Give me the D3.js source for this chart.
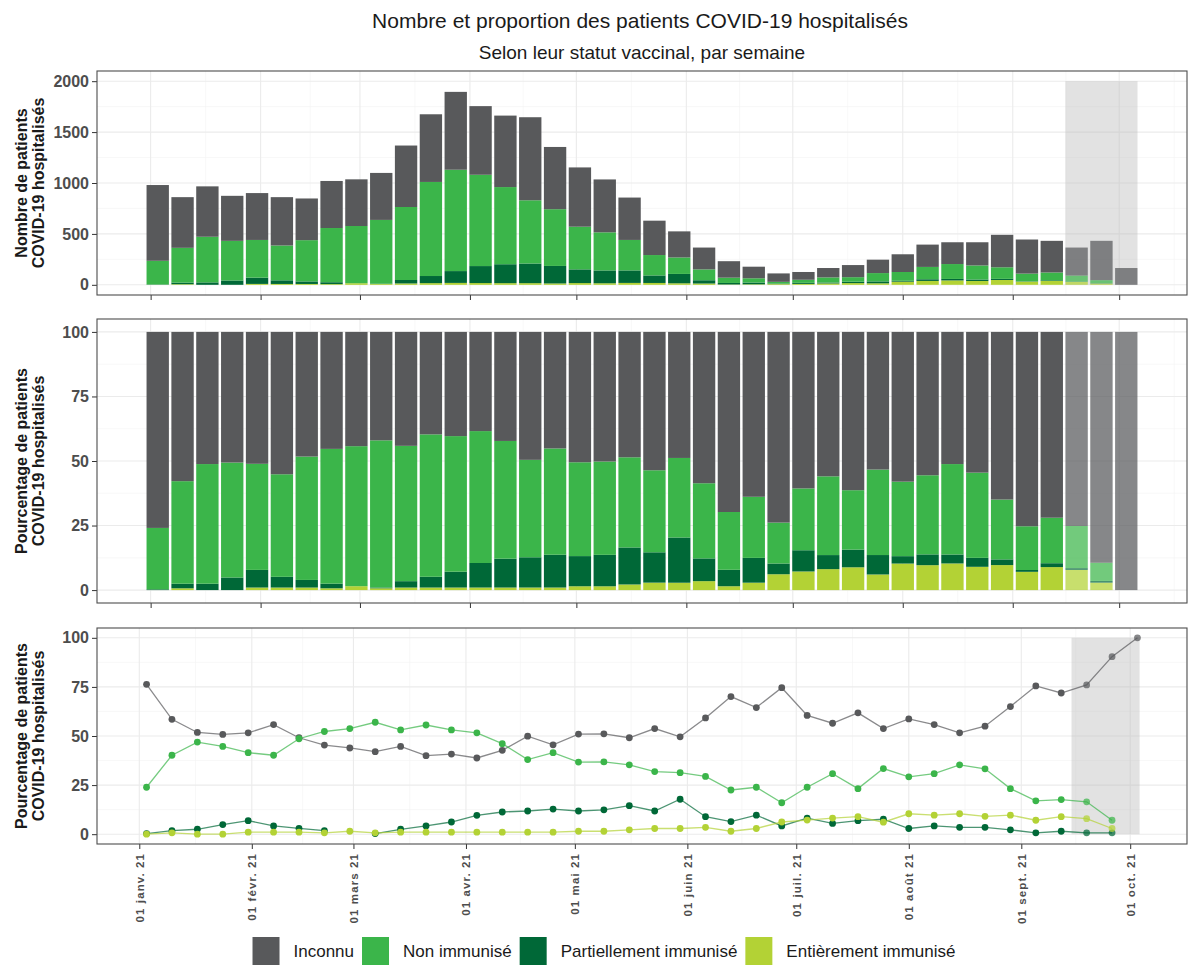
<!DOCTYPE html>
<html>
<head>
<meta charset="utf-8">
<script src="https://cdn.jsdelivr.net/npm/d3@7"></script>
<style>
  body { margin: 0; background: #fff; }
  text { font-family: "Liberation Sans", Arial, sans-serif; }
</style>
</head>
<body>
<svg id="chart" width="1188" height="965"></svg>
<script>
// weekly data (week start, Sunday)
const weeks = [
  "2021-01-03", "2021-01-10", "2021-01-17", "2021-01-24", "2021-01-31",
  "2021-02-07", "2021-02-14", "2021-02-21", "2021-02-28",
  "2021-03-07", "2021-03-14", "2021-03-21", "2021-03-28",
  "2021-04-04", "2021-04-11", "2021-04-18", "2021-04-25",
  "2021-05-02", "2021-05-09", "2021-05-16", "2021-05-23", "2021-05-30",
  "2021-06-06", "2021-06-13", "2021-06-20", "2021-06-27",
  "2021-07-04", "2021-07-11", "2021-07-18", "2021-07-25",
  "2021-08-01", "2021-08-08", "2021-08-15", "2021-08-22", "2021-08-29",
  "2021-09-05", "2021-09-12", "2021-09-19", "2021-09-26", "2021-10-03"
];
const totals = [980, 861, 967, 874, 901, 861, 848, 1020, 1036, 1099,
  1368, 1675, 1895, 1755, 1662, 1646, 1354, 1153, 1035, 857,
  630, 525, 366, 232, 178, 112, 126, 165, 194, 247,
  300, 395, 418, 418, 491, 445, 432, 366, 432, 165];
// percentages per status
const pctInconnu = [76.3, 58.5, 51.8, 50.8, 51.6, 55.8, 49.1, 45.4, 43.9, 42.0,
  44.7, 40.0, 40.8, 38.8, 42.7, 49.9, 45.5, 51.0, 51.1, 49.1,
  53.8, 49.6, 59.2, 70.1, 64.5, 74.6, 60.5, 56.5, 61.8, 53.8,
  58.7, 55.8, 51.6, 55.0, 65.0, 75.5, 71.9, 76.0, 90.4, 100];
const pctNon = [23.9, 40.2, 46.9, 44.7, 41.5, 40.2, 48.6, 52.3, 53.8, 57.0,
  53.1, 55.6, 53.1, 51.6, 46.1, 38.0, 41.5, 36.7, 36.8, 35.3,
  31.9, 31.3, 29.4, 22.5, 23.9, 16.0, 23.9, 30.8, 23.2, 33.4,
  29.2, 30.8, 35.3, 33.3, 23.2, 17.0, 17.6, 16.5, 7.1, null];
const pctPartiel = [0.3, 1.8, 2.5, 4.9, 6.9, 4.2, 3.0, 1.8, null, 0.3,
  2.5, 4.2, 6.2, 9.6, 11.3, 11.8, 12.8, 11.8, 12.4, 14.5,
  11.8, 17.8, 8.9, 6.4, 9.7, 4.2, 8.2, 5.5, 6.9, 7.6,
  2.9, 4.2, 3.5, 3.5, 2.2, 0.7, 1.5, 0.7, 0.7, null];
const pctEntier = [0, 0.7, 0, 0, 1.0, 1.0, 1.0, 0.7, 1.5, 0.7,
  1.0, 1.0, 1.0, 1.0, 1.0, 1.0, 1.0, 1.5, 1.5, 2.2,
  2.9, 2.9, 3.5, 1.5, 2.9, 6.2, 7.2, 8.2, 8.9, 6.1,
  10.4, 9.7, 10.4, 9.1, 9.7, 7.1, 8.9, 7.9, 2.9, null];

const statuts = ["Inconnu", "Non immunisé", "Partiellement immunisé", "Entièrement immunisé"];
const keys = ["inconnu", "non", "partiel", "entier"];
const colours = ["#58595b", "#3bb54a", "#006837", "#b3d235"];
const incompleteWeeks = 3; // last weeks with incomplete data
const shadeBars = ["2021-09-15T20:00", "2021-10-06T04:00"];
const shadeLines = ["2021-09-14T20:00", "2021-10-03T14:00"];

const title = "Nombre et proportion des patients COVID-19 hospitalisés";
const subtitle = "Selon leur statut vaccinal, par semaine";
const yTitles = [["Nombre de patients", "COVID-19 hospitalisés"],
                 ["Pourcentage de patients", "COVID-19 hospitalisés"],
                 ["Pourcentage de patients", "COVID-19 hospitalisés"]];

//layout
const left = 97, right = 1187;
const panels = [{ top: 71, bottom: 295 }, { top: 319, bottom: 603 }, { top: 628, bottom: 844 }];
const tickLen = 5;
const DAY = 864e5;

const fr = d3.timeFormatLocale({
  dateTime: "%A %e %B %Y à %X", date: "%d/%m/%Y", time: "%H:%M:%S",
  periods: ["AM", "PM"],
  days: ["dimanche", "lundi", "mardi", "mercredi", "jeudi", "vendredi", "samedi"],
  shortDays: ["dim.", "lun.", "mar.", "mer.", "jeu.", "ven.", "sam."],
  months: ["janvier", "février", "mars", "avril", "mai", "juin", "juillet", "août", "septembre", "octobre", "novembre", "décembre"],
  shortMonths: ["janv.", "févr.", "mars", "avr.", "mai", "juin", "juil.", "août", "sept.", "oct.", "nov.", "déc."]
});
const fmt = fr.format("%d %b %y");

const svg = d3.select("#chart");
const colour = d3.scaleOrdinal().domain(keys).range(colours);

// build rows
const rows = weeks.map((w, i) => {
  const pct = [pctInconnu[i], pctNon[i], pctPartiel[i], pctEntier[i]];
  const sum = d3.sum(pct);
  const r = { date: d3.isoParse(w), total: totals[i], faded: i >= weeks.length - incompleteWeeks };
  keys.forEach((k, j) => { r[k] = pct[j]; r["n_" + k] = totals[i] * (pct[j] || 0) / sum; });
  return r;
});

// x scales, with ggplot style 5% expansion
const halfBar = 0.45 * 7 * DAY;
function expand(lo, hi) {
  const pad = (hi - lo) * 0.05;
  return [new Date(lo - pad), new Date(hi + pad)];
}
const first = +rows[0].date, last = +rows[rows.length - 1].date;
const xBar = d3.scaleTime().domain(expand(first - halfBar, last + halfBar)).range([left, right]);
const xLine = d3.scaleTime().domain(expand(first, last)).range([left, right]);

const yCount = d3.scaleLinear().domain([-100, 2100]).range([panels[0].bottom, panels[0].top]);
const yShare = d3.scaleLinear().domain([-0.05, 1.05]).range([panels[1].bottom, panels[1].top]);
const yPct = d3.scaleLinear().domain([-5, 105]).range([panels[2].bottom, panels[2].top]);

function drawFrame(p, x, y, yTicks, yFmt, showLabels) {
  const g = svg.append("g");
  const months = d3.timeMonth.range(new Date(2020, 11, 1), new Date(2021, 11, 1));
  const [d0, d1] = x.domain();
  const major = months.filter(d => d >= d0 && d <= d1);
  const minor = d3.pairs(months).map(([a, b]) => new Date((+a + +b) / 2)).filter(d => d >= d0 && d <= d1);
  const yMinor = d3.pairs(yTicks).map(([a, b]) => (a + b) / 2);

  g.selectAll(".vminor").data(minor).join("line")
    .attr("x1", d => x(d)).attr("x2", d => x(d)).attr("y1", p.top).attr("y2", p.bottom)
    .attr("stroke", "#f3f3f3").attr("stroke-width", 0.6);
  g.selectAll(".hminor").data(yMinor).join("line")
    .attr("x1", left).attr("x2", right).attr("y1", d => y(d)).attr("y2", d => y(d))
    .attr("stroke", "#f3f3f3").attr("stroke-width", 0.6);
  g.selectAll(".vmajor").data(major).join("line")
    .attr("x1", d => x(d)).attr("x2", d => x(d)).attr("y1", p.top).attr("y2", p.bottom)
    .attr("stroke", "#ebebeb").attr("stroke-width", 1.1);
  g.selectAll(".hmajor").data(yTicks).join("line")
    .attr("x1", left).attr("x2", right).attr("y1", d => y(d)).attr("y2", d => y(d))
    .attr("stroke", "#ebebeb").attr("stroke-width", 1.1);

  // axes drawn later, on top
  return () => {
    const ax = svg.append("g").attr("transform", `translate(${left},0)`)
      .call(d3.axisLeft(y).tickValues(yTicks).tickFormat(yFmt).tickSize(tickLen).tickPadding(3));
    ax.select(".domain").remove();
    ax.selectAll("line").attr("stroke", "#333");
    ax.selectAll("text").attr("fill", "#4d4d4d").attr("font-size", 16).attr("font-weight", "bold")
      .attr("font-family", "'Liberation Sans', Arial, sans-serif");

    const bx = svg.append("g").attr("transform", `translate(0,${p.bottom})`)
      .call(d3.axisBottom(x).tickValues(major).tickFormat(showLabels ? fmt : "").tickSize(tickLen).tickPadding(4));
    bx.select(".domain").remove();
    bx.selectAll("line").attr("stroke", "#333");
    bx.selectAll("text").attr("fill", "#4d4d4d").attr("font-size", 11.5).attr("font-weight", "bold")
      .attr("letter-spacing", 1.1)
      .attr("font-family", "'Liberation Sans', Arial, sans-serif")
      .attr("transform", "rotate(-90)")
      .attr("text-anchor", "end").attr("x", -(tickLen + 4)).attr("y", 0).attr("dy", "0.35em");

    svg.append("rect").attr("x", left).attr("y", p.top)
      .attr("width", right - left).attr("height", p.bottom - p.top)
      .attr("fill", "none").attr("stroke", "#4d4d4d").attr("stroke-width", 1.1);
  };
}

const stackOrder = ["n_entier", "n_partiel", "n_non", "n_inconnu"];

// panel 1 : counts
const finish1 = drawFrame(panels[0], xBar, yCount, [0, 500, 1000, 1500, 2000], d3.format("d"), false);
svg.append("rect")
  .attr("x", xBar(d3.isoParse(shadeBars[0]))).attr("y", yCount(2000))
  .attr("width", xBar(d3.isoParse(shadeBars[1])) - xBar(d3.isoParse(shadeBars[0])))
  .attr("height", yCount(0) - yCount(2000))
  .attr("fill", "#bbbbbb").attr("fill-opacity", 0.42);
const stackCount = d3.stack().keys(stackOrder)(rows);
svg.append("g").selectAll("g").data(stackCount).join("g")
  .attr("fill", d => colour(d.key.slice(2)))
  .selectAll("rect").data(d => d).join("rect")
  .attr("x", d => xBar(new Date(+d.data.date - halfBar)))
  .attr("width", d => xBar(new Date(+d.data.date + halfBar)) - xBar(new Date(+d.data.date - halfBar)))
  .attr("y", d => yCount(d[1]))
  .attr("height", d => yCount(d[0]) - yCount(d[1]))
  .attr("opacity", d => d.data.faded ? 0.72 : 1);
finish1();

// panel 2 : proportions
const finish2 = drawFrame(panels[1], xBar, yShare, [0, 0.25, 0.5, 0.75, 1], d => Math.round(d * 100), false);
const stackShare = d3.stack().keys(stackOrder).offset(d3.stackOffsetExpand)(rows);
svg.append("g").selectAll("g").data(stackShare).join("g")
  .attr("fill", d => colour(d.key.slice(2)))
  .selectAll("rect").data(d => d).join("rect")
  .attr("x", d => xBar(new Date(+d.data.date - halfBar)))
  .attr("width", d => xBar(new Date(+d.data.date + halfBar)) - xBar(new Date(+d.data.date - halfBar)))
  .attr("y", d => yShare(d[1]))
  .attr("height", d => yShare(d[0]) - yShare(d[1]))
  .attr("opacity", d => d.data.faded ? 0.72 : 1);
finish2();

// panel 3 : lines
const finish3 = drawFrame(panels[2], xLine, yPct, [0, 25, 50, 75, 100], d3.format("d"), true);
svg.append("rect")
  .attr("x", xLine(d3.isoParse(shadeLines[0]))).attr("y", yPct(100))
  .attr("width", xLine(d3.isoParse(shadeLines[1])) - xLine(d3.isoParse(shadeLines[0])))
  .attr("height", yPct(0) - yPct(100))
  .attr("fill", "#bbbbbb").attr("fill-opacity", 0.42);
keys.forEach(k => {
  const line = d3.line().defined(d => d[k] != null).x(d => xLine(d.date)).y(d => yPct(d[k]));
  svg.append("path").datum(rows).attr("d", line)
    .attr("fill", "none").attr("stroke", colour(k)).attr("stroke-width", 1.3).attr("stroke-opacity", 0.7);
});
keys.forEach(k => {
  svg.append("g").selectAll("circle").data(rows.filter(d => d[k] != null)).join("circle")
    .attr("cx", d => xLine(d.date)).attr("cy", d => yPct(d[k])).attr("r", 3.4)
    .attr("fill", colour(k)).attr("opacity", d => d.faded ? 0.72 : 1);
});
finish3();

// y axis titles
yTitles.forEach((lines, i) => {
  const cy = (panels[i].top + panels[i].bottom) / 2;
  lines.forEach((t, j) => {
    svg.append("text")
      .attr("transform", `translate(${27 + j * 17},${cy}) rotate(-90)`)
      .attr("text-anchor", "middle").attr("font-size", 16).attr("font-weight", "bold")
      .attr("fill", "#1a1a1a").text(t);
  });
});

// titles
svg.append("text").attr("x", 640).attr("y", 28).attr("text-anchor", "middle")
  .attr("font-size", 21).attr("fill", "#1a1a1a").text(title);
svg.append("text").attr("x", 642).attr("y", 59).attr("text-anchor", "middle")
  .attr("font-size", 19).attr("fill", "#1a1a1a").text(subtitle);

// legend
const legend = svg.append("g");
let lx = 0;
statuts.forEach((s, i) => {
  legend.append("rect").attr("x", lx).attr("y", 937).attr("width", 27).attr("height", 30)
    .attr("fill", colours[i]);
  const t = legend.append("text").attr("x", lx + 41).attr("y", 957)
    .attr("font-size", 17).attr("fill", "#1a1a1a").text(s);
  lx += 41 + t.node().getComputedTextLength() + 8;
});
legend.attr("transform", `translate(${604 - (lx - 8) / 2},0)`);
</script>
</body>
</html>
